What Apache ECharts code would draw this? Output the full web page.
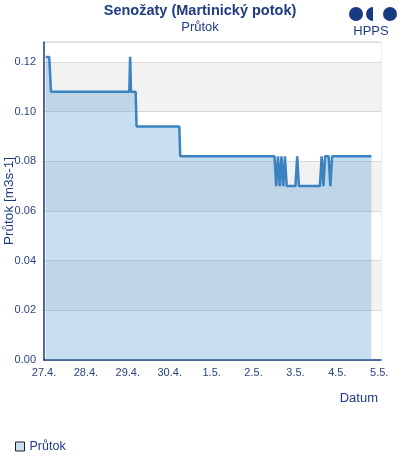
<!DOCTYPE html>
<html>
<head>
<meta charset="utf-8">
<script src="https://cdn.jsdelivr.net/npm/echarts@6/dist/echarts.min.js"></script>
<style>
html, body { margin: 0; padding: 0; background: #fff; }
#chart { width: 400px; height: 460px; }
</style>
</head>
<body>
<div id="chart"></div>
<script>
// průtok, čas (UTC) a hodnota
const times = [
  '2024-04-27T01:00', '2024-04-27T03:00', '2024-04-27T04:00',
  '2024-04-29T00:50', '2024-04-29T01:20', '2024-04-29T01:50',
  '2024-04-29T04:30', '2024-04-29T05:00',
  '2024-04-30T05:30', '2024-04-30T06:00',
  '2024-05-02T12:00', '2024-05-02T13:00', '2024-05-02T14:00', '2024-05-02T15:00',
  '2024-05-02T16:00', '2024-05-02T17:00', '2024-05-02T18:00', '2024-05-02T19:00',
  '2024-05-03T00:00', '2024-05-03T01:00', '2024-05-03T02:00',
  '2024-05-03T14:00', '2024-05-03T15:00', '2024-05-03T16:00', '2024-05-03T17:00',
  '2024-05-03T19:00', '2024-05-03T20:00', '2024-05-03T21:00',
  '2024-05-04T19:30'
]
const flow = [
  0.122, 0.122, 0.108,
  0.108, 0.122, 0.108,
  0.108, 0.094,
  0.094, 0.082,
  0.082, 0.070, 0.082, 0.070,
  0.082, 0.070, 0.082, 0.070,
  0.070, 0.082, 0.070,
  0.070, 0.082, 0.070, 0.082,
  0.082, 0.070, 0.082,
  0.082
]
const yTicks = [0, 0.02, 0.04, 0.06, 0.08, 0.10, 0.12]

const DAY = 86400000
const navy = '#1f3c82'
const labelColor = '#2c437e'

const seriesData = times.map((t, i) => [Date.parse(t + 'Z'), flow[i]])

let myChart = echarts.init(document.getElementById('chart'))
myChart.setOption({
  animation: false,
  textStyle: { fontFamily: 'Liberation Sans, Arial, sans-serif' },
  title: {
    text: 'Senožaty (Martinický potok)',
    subtext: 'Průtok',
    left: 'center',
    top: -2,
    itemGap: 3,
    textStyle: { color: navy, fontSize: 14.5, fontWeight: 'bold' },
    subtextStyle: { color: navy, fontSize: 13 }
  },
  graphic: [
    { type: 'circle', shape: { cx: 356, cy: 14, r: 7 }, style: { fill: '#173a80' } },
    { type: 'sector', shape: { cx: 373, cy: 14, r: 7, r0: 0, startAngle: Math.PI / 2, endAngle: Math.PI * 3 / 2 }, style: { fill: '#173a80' } },
    { type: 'circle', shape: { cx: 390, cy: 14, r: 7 }, style: { fill: '#173a80' } },
    { type: 'text', x: 371, y: 31, style: { text: 'HPPS', fill: navy, font: '13px Liberation Sans, Arial', align: 'center', verticalAlign: 'middle' } }
  ],
  legend: {
    left: 10,
    top: 435,
    icon: 'rect',
    itemWidth: 9,
    itemHeight: 9,
    itemGap: 8,
    itemStyle: { color: '#c8dff2', borderColor: '#222', borderWidth: 1 },
    textStyle: { color: navy, fontSize: 12.5 },
    data: ['Průtok']
  },
  grid: {
    left: 44,
    right: 19,
    top: 42,
    bottom: 100,
    containLabel: false,
    outerBoundsMode: 'none',
    show: true,
    borderColor: '#d9d9d9',
    borderWidth: 1
  },
  xAxis: {
    type: 'value',
    min: Date.UTC(2024, 3, 27),
    max: Date.UTC(2024, 4, 5, 1),
    interval: DAY,
    name: 'Datum',
    nameLocation: 'end',
    nameGap: -3,
    nameMoveOverlap: false,
    nameTextStyle: { color: navy, fontSize: 13, align: 'right', verticalAlign: 'top', padding: [32, 0, 0, 0] },
    axisLine: { lineStyle: { color: navy, width: 1.5 } },
    axisTick: { show: false },
    splitLine: { show: false },
    axisLabel: {
      color: labelColor,
      fontSize: 11,
      margin: 7,
      showMaxLabel: false,
      formatter: v => {
        const d = new Date(v)
        return d.getUTCDate() + '.' + (d.getUTCMonth() + 1) + '.'
      }
    }
  },
  yAxis: {
    type: 'value',
    min: yTicks[0],
    max: 0.128,
    interval: 0.02,
    name: 'Průtok [m3s-1]',
    nameLocation: 'middle',
    nameGap: 28,
    nameMoveOverlap: false,
    nameTextStyle: { color: navy, fontSize: 13.5 },
    axisLine: { show: true, lineStyle: { color: navy, width: 1.5 } },
    axisTick: { show: false },
    axisLabel: {
      color: labelColor,
      fontSize: 11,
      margin: 8,
      showMaxLabel: false,
      formatter: v => v.toFixed(2)
    },
    splitLine: { lineStyle: { color: '#d9d9d9', width: 1 } },
    splitArea: { show: true, areaStyle: { color: ['#ffffff', '#f2f2f2'] } }
  },
  series: [
    {
      name: 'Průtok',
      type: 'line',
      color: '#3b82c0',
      showSymbol: false,
      lineStyle: { width: 2.5, color: '#3b82c0' },
      areaStyle: { color: '#4891d0', opacity: 0.3 },
      data: seriesData
    }
  ]
})
</script>
</body>
</html>
